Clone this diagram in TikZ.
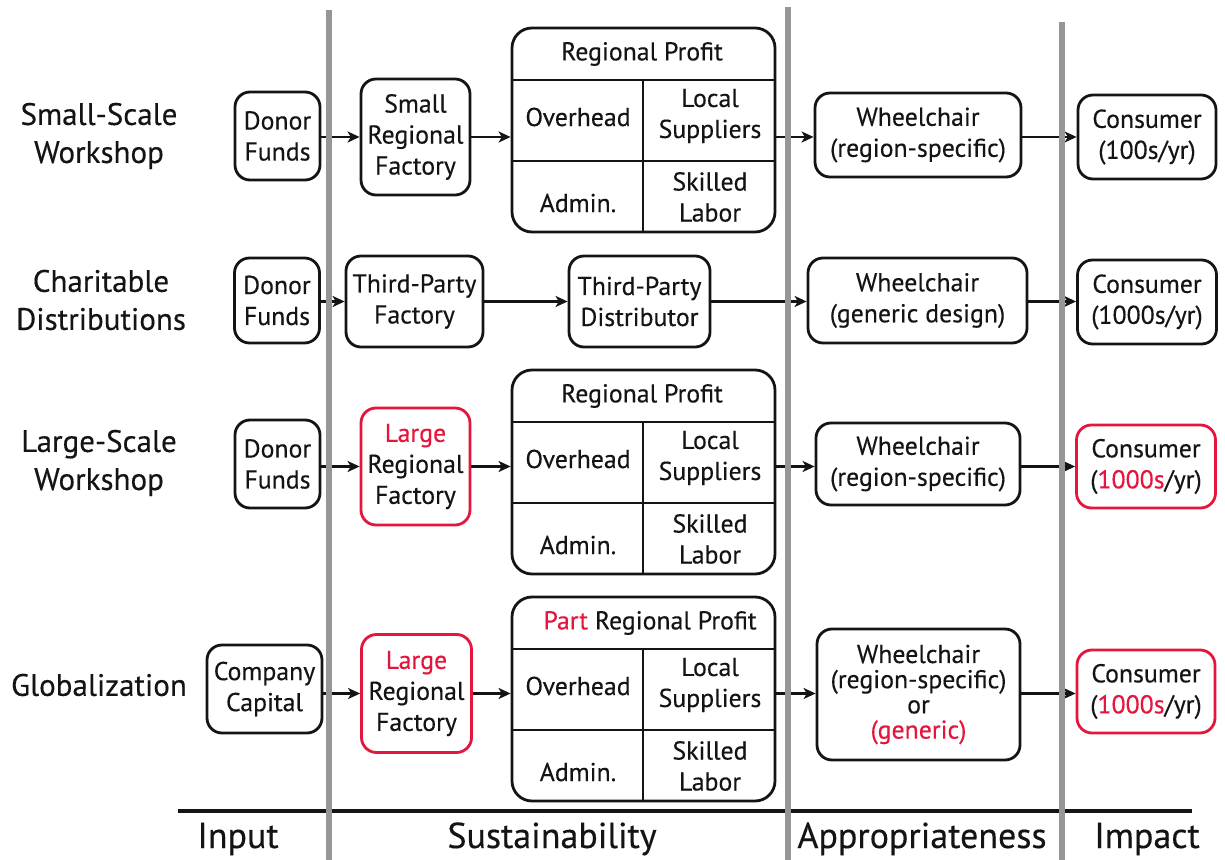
\documentclass[tikz,border=0pt]{standalone}
\usepackage{fontspec}
\setmainfont{PT Sans}[FakeBold=0.35]
\usetikzlibrary{arrows.meta}
\definecolor{accent}{RGB}{228,22,62}
\definecolor{divider}{RGB}{150,150,150}
\definecolor{ink}{RGB}{20,20,20}
\newcommand\nodefont{\fontsize{12.9}{15.5}\selectfont}
\newcommand\tightfont{\fontsize{12.9}{12.6}\selectfont}
\newcommand\rowfont{\fontsize{15.5}{19}\selectfont}
\newcommand\axisfont{\fontsize{18}{21}\selectfont}
\newcommand\hl[1]{\textcolor{accent}{#1}}
\newcommand\profitbox[4]{%
\begin{scope}[shift={(0,#2)}]
  \node[pbox, sz={263}{204}] (#1) at (643.5,130) {};
  \draw[cellline] (512,80) -- (775,80);
  \draw[cellline] (512,161) -- (775,161);
  \draw[cellline] (643,80) -- (643,232);
  \node[celltext] (#1-t) at (#4,54) {#3};
  \node[celltext] (#1-o) at (578,117) {Overhead};
  \node[celltext] (#1-s) at (710,116) {Local\\Suppliers};
  \node[celltext] (#1-a) at (578,203) {Admin.};
  \node[celltext] (#1-l) at (710,197) {Skilled\\Labor};
\end{scope}}
\begin{document}
\begin{tikzpicture}[x=0.5pt,y=-0.5pt,
  sz/.style 2 args={minimum width=#1*0.5pt, minimum height=#2*0.5pt},
  stepbox/.style={draw=ink, line width=1.4pt, rounded corners=7.5pt, align=center, inner sep=0pt, font=\nodefont, text=ink},
  redbox/.style={stepbox, draw=accent},
  pbox/.style={draw=ink, line width=1.4pt, rounded corners=10pt, inner sep=0pt},
  cellline/.style={draw=ink, line width=1.3pt},
  celltext/.style={align=center, inner sep=0pt, font=\nodefont, text=ink},
  flow/.style={draw=ink, line width=1.1pt, -{Stealth[length=6pt,width=5.5pt,inset=1.6pt]}},
  rowlabel/.style={align=center, inner sep=0pt, font=\rowfont, text=ink},
  axislabel/.style={inner sep=0pt, font=\axisfont, text=ink, anchor=base},
  divline/.style={draw=divider, line width=3pt},
]
\useasboundingbox (0,0) rectangle (1225,860);

% row labels
\node[rowlabel] (r1) at (99,136) {Small-Scale\\Workshop};
\node[rowlabel] (r2) at (101,300) {Charitable\\Distributions};
\node[rowlabel] (r3) at (99,463) {Large-Scale\\Workshop};
\node[rowlabel] (r4) at (99,685) {Globalization};

% row 1
\node[stepbox, sz={85}{88}] (d1) at (277.5,136) {Donor\\Funds};
\node[stepbox, sz={109}{116}] (f1) at (415.5,137) {Small\\Regional\\Factory};
\profitbox{p1}{0}{Regional Profit}{642}
\node[stepbox, sz={206}{84}] (w1) at (918,135) {Wheelchair\\(region-specific)};
\node[stepbox, sz={138}{84}] (c1) at (1147,137) {Consumer\\(100s/yr)};

% row 2
\node[stepbox, sz={85}{85}] (d2) at (277,300.5) {Donor\\Funds};
\node[stepbox, sz={137}{91}] (tf) at (414.5,301.5) {Third-Party\\Factory};
\node[stepbox, sz={141}{91}] (td) at (639.5,301.5) {Third-Party\\Distributor};
\node[stepbox, sz={219}{85}] (w2) at (917.5,300.5) {Wheelchair\\(generic design)};
\node[stepbox, sz={139}{84}] (c2) at (1147,302) {Consumer\\(1000s/yr)};

% row 3
\node[stepbox, sz={85}{88}] (d3) at (277.5,464) {Donor\\Funds};
\node[redbox, sz={109}{117}] (f3) at (415.5,466.5) {\hl{Large}\\Regional\\Factory};
\profitbox{p3}{342}{Regional Profit}{642}
\node[stepbox, sz={204}{82}] (w3) at (918,464) {Wheelchair\\(region-specific)};
\node[redbox, sz={139}{83}] (c3) at (1146,466.5) {Consumer\\(\hl{1000s}/yr)};

% row 4
\node[stepbox, sz={115}{88}] (cc) at (264.5,689) {Company\\Capital};
\node[redbox, sz={110}{118}] (f4) at (416.5,693.5) {\hl{Large}\\Regional\\Factory};
\profitbox{p4}{569}{\hl{Part} Regional Profit}{650}
\node[stepbox, sz={203}{131}, font=\tightfont] (w4) at (918.5,694.5) {Wheelchair\\(region-specific)\\or\\\hl{(generic)}};
\node[redbox, sz={138}{83}] (c4) at (1146,691.5) {Consumer\\(\hl{1000s}/yr)};

% connectors
\draw[flow] (f1.west -| d1.east) -- (f1.west);
\draw[flow] (f1.east) -- (f1.east -| p1.west);
\draw[flow] (p1.east |- f1.east) -- (w1.west |- f1.east);
\draw[flow] (w1.east |- f1.east) -- (c1.west |- f1.east);

\draw[flow] (tf.west -| d2.east) -- (tf.west);
\draw[flow] (tf.east) -- (td.west);
\draw[flow] (td.east) -- (td.east -| w2.west);
\draw[flow] (w2.east |- td.east) -- (c2.west |- td.east);

\draw[flow] (f3.west -| d3.east) -- (f3.west);
\draw[flow] (f3.east) -- (f3.east -| p3.west);
\draw[flow] (p3.east |- f3.east) -- (w3.west |- f3.east);
\draw[flow] (w3.east |- f3.east) -- (c3.west |- f3.east);

\draw[flow] (f4.west -| cc.east) -- (f4.west);
\draw[flow] (f4.east) -- (f4.east -| p4.west);
\draw[flow] (p4.east |- f4.east) -- (w4.west |- f4.east);
\draw[flow] (w4.east |- f4.east) -- (c4.west |- f4.east);

% axis
\draw[ink, line width=2pt] (178,811) -- (1192,811);
\draw[divline] (329,10) -- (329,860);
\draw[divline] (788,7) -- (788,860);
\draw[divline] (1062,22) -- (1062,860);

\node[axislabel] (a1) at (238,848) {Input};
\node[axislabel] (a2) at (552,848) {Sustainability};
\node[axislabel] (a3) at (922,848) {Appropriateness};
\node[axislabel] (a4) at (1147,848) {Impact};
\end{tikzpicture}
\end{document}
